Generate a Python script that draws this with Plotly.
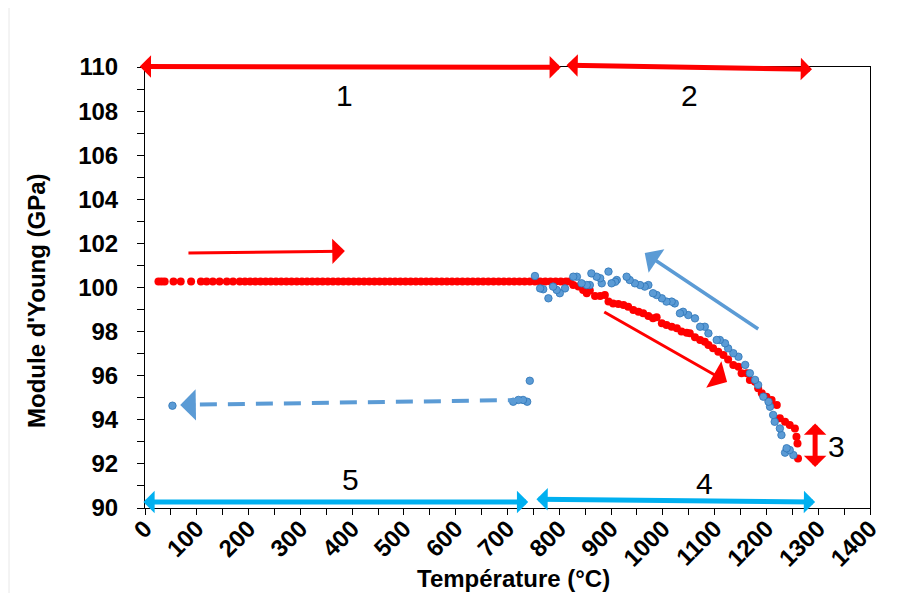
import plotly.graph_objects as go

# ---- data ----
# heating (red): plateau part then decreasing part
red_flat_x = [26, 32, 38, 55, 69, 89, 108, 119, 131, 144, 158, 170,
              183, 193, 203, 213, 223, 233, 243, 253, 263, 273, 283, 293, 303, 313, 323, 333,
              343, 353, 363, 373, 383, 393, 403, 413, 423, 433, 443, 453, 463, 473, 483, 493,
              503, 513, 523, 533, 543, 553, 563, 573, 583, 593, 603, 613, 623, 633, 643, 653,
              663, 673, 683, 693, 703, 713, 723, 733, 743, 753, 763, 773, 783, 793, 803, 813, 820]
red_flat_value = 100.27
red_drop_x = [827, 837, 846, 853, 859, 869, 879, 888, 895, 904, 914, 924, 933, 943, 953, 962,
              972, 981, 988, 998, 1007, 1017, 1027, 1036, 1046, 1052, 1062, 1072, 1081, 1088,
              1097, 1107, 1117, 1126, 1136, 1146, 1152, 1162, 1168, 1178, 1184, 1191, 1200, 1210,
              1220, 1226, 1236, 1245, 1255, 1258, 1260, 1261]
red_drop_y = [100.11, 100.04, 99.89, 99.74, 99.86, 99.61, 99.61, 99.66, 99.36, 99.28, 99.25,
              99.21, 99.13, 98.98, 98.90, 98.83, 98.71, 98.60, 98.65, 98.38, 98.30, 98.22, 98.15,
              98.00, 97.95, 97.92, 97.74, 97.62, 97.54, 97.39, 97.24, 97.09, 96.94, 96.74, 96.49,
              96.41, 96.11, 96.11, 95.81, 95.73, 95.43, 95.20, 95.05, 94.90, 94.67, 94.07, 93.91,
              93.76, 93.61, 93.23, 92.93, 92.25]

# cooling (blue)
blue_x = [1252, 1236, 1245, 1239, 1229, 1226, 1216, 1213, 1207, 1204, 1194, 1184, 1178, 1168,
          1159, 1146, 1136, 1126, 1120, 1110, 1104, 1088, 1081, 1072, 1062, 1049, 1039, 1033,
          1023, 1017, 1007, 998, 988, 981, 972, 965, 956, 946, 936, 930, 911, 908, 901, 895,
          882, 879, 872, 862, 859, 853, 843, 834, 827, 811, 801, 795, 788, 779, 769, 763, 753,
          743, 738, 730, 721, 711, 53]
blue_y = [92.40, 92.51, 92.63, 92.71, 93.31, 93.61, 93.91, 94.22, 94.59, 94.82, 95.05, 95.58,
          95.81, 96.11, 96.49, 96.86, 97.02, 97.24, 97.47, 97.62, 97.62, 97.92, 98.22, 98.22,
          98.60, 98.75, 98.90, 98.83, 99.28, 99.36, 99.36, 99.51, 99.66, 99.74, 100.11, 100.04,
          100.11, 100.19, 100.34, 100.49, 100.34, 100.26, 100.19, 100.72, 100.19, 100.42,
          100.49, 100.64, 100.11, 100.11, 100.19, 100.49, 100.49, 99.96, 99.74, 99.89, 100.04,
          99.51, 99.92, 99.96, 100.52, 95.77, 94.82, 94.90, 94.90, 94.82, 94.64]

x_ticks = list(range(0, 1401, 100))
y_ticks = list(range(90, 111, 2))

red_x = red_flat_x + red_drop_x
red_y = [red_flat_value] * len(red_flat_x) + red_drop_y

RED = "#FF0000"
BLUE = "#5B9BD5"
CYAN = "#00B0F0"
FONT = "Liberation Sans, Arial, sans-serif"

fig = go.Figure()
fig.add_trace(go.Scatter(x=red_x, y=red_y, mode="markers",
                         marker=dict(color=RED, size=8, line=dict(width=0)),
                         showlegend=False, cliponaxis=False))
fig.add_trace(go.Scatter(x=blue_x, y=blue_y, mode="markers",
                         marker=dict(color=BLUE, size=7.5, line=dict(color="#2E75B6", width=0.8)),
                         showlegend=False, cliponaxis=False))

ann = []

def arrow(x, y, ax, ay, color, width, size, both=False):
    ann.append(dict(x=x, y=y, ax=ax, ay=ay, xref="x", yref="y", axref="x", ayref="y",
                    showarrow=True, arrowhead=1, startarrowhead=1, arrowcolor=color,
                    arrowwidth=width, arrowsize=size, startarrowsize=size,
                    arrowside="end+start" if both else "end", text="", standoff=0,
                    startstandoff=0))

# top red double arrows
arrow(803, 109.99, -13, 110.02, RED, 5, 0.75, both=True)
arrow(1288, 109.9, 811, 110.08, RED, 5, 0.75, both=True)
# bottom cyan double arrows
arrow(740, 90.27, -6, 90.27, CYAN, 5, 0.75, both=True)
arrow(1294, 90.27, 753, 90.4, CYAN, 5, 0.75, both=True)
# vertical red double arrow
arrow(1294, 91.86, 1294, 93.9, RED, 5, 0.75, both=True)
# single arrows
arrow(386, 101.65, 81, 101.56, RED, 3, 1.4)
arrow(965, 101.56, 1187, 98.07, BLUE, 3.5, 1.35)
arrow(1124, 95.71, 884, 98.93, RED, 3, 1.7)
# dashed blue arrow head
arrow(68, 94.67, 100, 94.68, BLUE, 4, 1.3)

def label(x, y, t):
    ann.append(dict(x=x, y=y, xref="x", yref="y", text=t, showarrow=False,
                    xanchor="center", yanchor="middle",
                    font=dict(family=FONT, size=30, color="black")))

label(386, 108.7, "1")
label(1052, 108.7, "2")
label(1336, 92.77, "3")
label(1081, 91.1, "4")
label(396, 91.3, "5")

# axis titles
ann.append(dict(x=(513 - 145) / 725, y=(508 - 578) / 441, xref="paper", yref="paper",
                xanchor="center", yanchor="middle",
                text="Température (°C)", showarrow=False,
                font=dict(family=FONT, size=24, color="black", weight="bold")))
ann.append(dict(x=(36 - 145) / 725, y=(508 - 301) / 441, xref="paper", yref="paper",
                xanchor="center", yanchor="middle",
                text="Module d'Young (GPa)", showarrow=False, textangle=-90,
                font=dict(family=FONT, size=24, color="black", weight="bold")))

shapes = [
    dict(type="line", xref="x", yref="y", x0=106, y0=94.69, x1=734, y1=94.9,
         line=dict(color=BLUE, width=4, dash="17px,11px")),
    dict(type="line", xref="paper", yref="paper", x0=(9 - 145) / 725, y0=(508 - 7) / 441,
         x1=1.2, y1=(508 - 7) / 441, line=dict(color="#E8E8E8", width=1)),
    dict(type="line", xref="paper", yref="paper", x0=(9 - 145) / 725, y0=(508 - 7) / 441,
         x1=(9 - 145) / 725, y1=-0.3, line=dict(color="#E8E8E8", width=1)),
]

tickfont = dict(family=FONT, size=24, color="black", weight="bold")

fig.update_layout(
    width=899, height=593,
    margin=dict(l=137, r=37, t=59, b=93),
    paper_bgcolor="white", plot_bgcolor="white",
    annotations=ann, shapes=shapes,
    xaxis=dict(range=[0, 1400], tickvals=x_ticks, ticktext=[str(v) for v in x_ticks],
               tickangle=-45, ticks="outside", ticklen=6, tickcolor="black",
               ticklabelstandoff=-10,
               showline=True, linecolor="black", linewidth=1, mirror=True,
               showgrid=False, zeroline=False, tickfont=tickfont,
               minor=dict(dtick=50, ticks="outside", ticklen=6, tickcolor="black", showgrid=False)),
    yaxis=dict(range=[90, 110], tickvals=y_ticks, ticktext=[str(v) for v in y_ticks],
               ticks="outside", ticklen=7, tickcolor="black", ticklabelstandoff=14,
               showline=True, linecolor="black", linewidth=1, mirror=True,
               showgrid=False, zeroline=False, tickfont=tickfont,
               minor=dict(dtick=1, ticks="outside", ticklen=7, tickcolor="black", showgrid=False)),
)

fig.write_html("out.html")
